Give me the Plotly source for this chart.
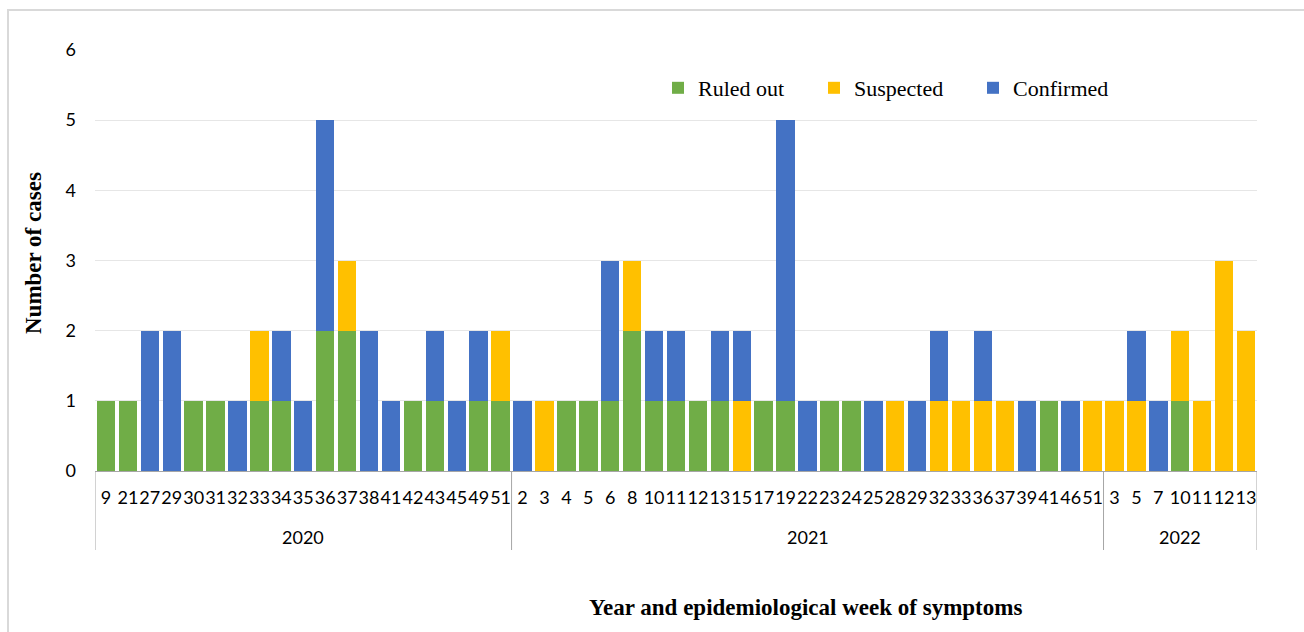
import plotly.graph_objects as go

# Epidemiological weeks grouped by year
years = ["2020"] * 19 + ["2021"] * 27 + ["2022"] * 7
weeks = [
    # 2020
    "9", "21", "27", "29", "30", "31", "32", "33", "34", "35", "36", "37", "38",
    "41", "42", "43", "45", "49", "51",
    # 2021
    "2", "3", "4", "5", "6", "8", "10", "11", "12", "13", "15", "17", "19", "22",
    "23", "24", "25", "28", "29", "32", "33", "36", "37", "39", "41", "46", "51",
    # 2022
    "3", "5", "7", "10", "11", "12", "13",
]

ruled_out = [
    1, 1, 0, 0, 1, 1, 0, 1, 1, 0, 2, 2, 0, 0, 1, 1, 0, 1, 1,
    0, 0, 1, 1, 1, 2, 1, 1, 1, 1, 0, 1, 1, 0, 1, 1, 0, 0, 0, 0, 0, 0, 0, 0, 1, 0, 0,
    0, 0, 0, 1, 0, 0, 0,
]
suspected = [
    0, 0, 0, 0, 0, 0, 0, 1, 0, 0, 0, 1, 0, 0, 0, 0, 0, 0, 1,
    0, 1, 0, 0, 0, 1, 0, 0, 0, 0, 1, 0, 0, 0, 0, 0, 0, 1, 0, 1, 1, 1, 1, 0, 0, 0, 1,
    1, 1, 0, 1, 1, 3, 2,
]
confirmed = [
    0, 0, 2, 2, 0, 0, 1, 0, 1, 1, 3, 0, 2, 1, 0, 1, 1, 1, 0,
    1, 0, 0, 0, 2, 0, 1, 1, 0, 1, 1, 0, 4, 1, 0, 0, 1, 0, 1, 1, 0, 1, 0, 1, 0, 1, 0,
    0, 1, 1, 0, 0, 0, 0,
]

# one unique category key per (year, week) pair
keys = [f"{y}-{w}" for y, w in zip(years, weeks)]
n = len(keys)

series = [
    ("Ruled out", ruled_out, "#70AD47", "legend"),
    ("Suspected", suspected, "#FFC000", "legend2"),
    ("Confirmed", confirmed, "#4472C4", "legend3"),
]

fig = go.Figure()
for name, vals, color, leg in series:
    fig.add_trace(go.Bar(
        x=keys,
        y=vals,
        name=name,
        marker=dict(color=color, line=dict(width=0)),
        legend=leg,
        showlegend=True,
    ))

W, H = 1304, 632
ml, mr, mt, mb = 95, 47, 50, 161
pw, ph = W - ml - mr, H - mt - mb

def px_x(x):
    return (x - ml) / pw

def px_y(y):
    return (H - mb - y) / ph

# year groups: boundaries and centres in category units
groups = []
start = 0
for i in range(1, n + 1):
    if i == n or years[i] != years[start]:
        groups.append((years[start], start, i - 1))
        start = i

axis_grey = "#a6a6a6"
shapes = [
    # outer chart frame
    dict(type="rect", xref="paper", yref="paper",
         x0=px_x(8), x1=px_x(1320), y0=px_y(650), y1=px_y(10),
         line=dict(color="#d9d9d9", width=2), fillcolor="rgba(0,0,0,0)",
         layer="below"),
]
annotations = []
bounds = sorted({g[1] - 0.5 for g in groups} | {g[2] + 0.5 for g in groups})
for b in bounds:
    shapes.append(dict(type="line", xref="x", yref="paper",
                       x0=b, x1=b, y0=px_y(550), y1=0,
                       line=dict(color=axis_grey, width=1)))
for label, a, b in groups:
    annotations.append(dict(text=label, x=(a + b) / 2, xref="x",
                            y=px_y(537), yref="paper", showarrow=False,
                            xanchor="center", yanchor="middle",
                            font=dict(family="Lato", size=18, color="#000000")))

annotations += [
    dict(text="<b>Number of cases</b>", textangle=-90,
         x=px_x(33), y=px_y(253), xref="paper", yref="paper",
         showarrow=False, xanchor="center", yanchor="middle",
         font=dict(family="Liberation Serif", size=23, color="#000000")),
    dict(text="<b>Year and epidemiological week of symptoms</b>",
         x=px_x(805), y=px_y(607), xref="paper", yref="paper",
         showarrow=False, xanchor="center", yanchor="middle",
         font=dict(family="Liberation Serif", size=23, color="#000000")),
]

legend_font = dict(family="Liberation Serif", size=22, color="#000000")
leg_common = dict(orientation="h", xanchor="left", yanchor="middle",
                  font=legend_font, bgcolor="rgba(0,0,0,0)", borderwidth=0,
                  itemclick=False)

fig.update_layout(
    width=W, height=H,
    margin=dict(l=ml, r=mr, t=mt, b=mb),
    paper_bgcolor="white",
    plot_bgcolor="white",
    barmode="stack",
    bargap=0.16,
    showlegend=True,
    font=dict(family="Lato", size=18, color="#000000"),
    legend=dict(x=px_x(658), y=px_y(88), **leg_common),
    legend2=dict(x=px_x(814), y=px_y(88), **leg_common),
    legend3=dict(x=px_x(973), y=px_y(88), **leg_common),
    xaxis=dict(
        type="category",
        range=[-0.5, n - 0.5],
        tickmode="array", tickvals=keys, ticktext=weeks, tickangle=0,
        showline=True, linecolor=axis_grey, linewidth=1,
        ticks="", ticklabelstandoff=10,
        tickfont=dict(family="Lato", size=18, color="#000000"),
        showgrid=False,
    ),
    yaxis=dict(
        range=[0, 6], dtick=1, tick0=0,
        showgrid=True, gridcolor="#e6e6e6", gridwidth=1,
        zeroline=False, showline=False,
        ticklabelstandoff=18,
        tickfont=dict(family="Lato", size=18, color="#000000"),
    ),
    annotations=annotations,
    shapes=shapes,
)

fig.write_html("out.html")
